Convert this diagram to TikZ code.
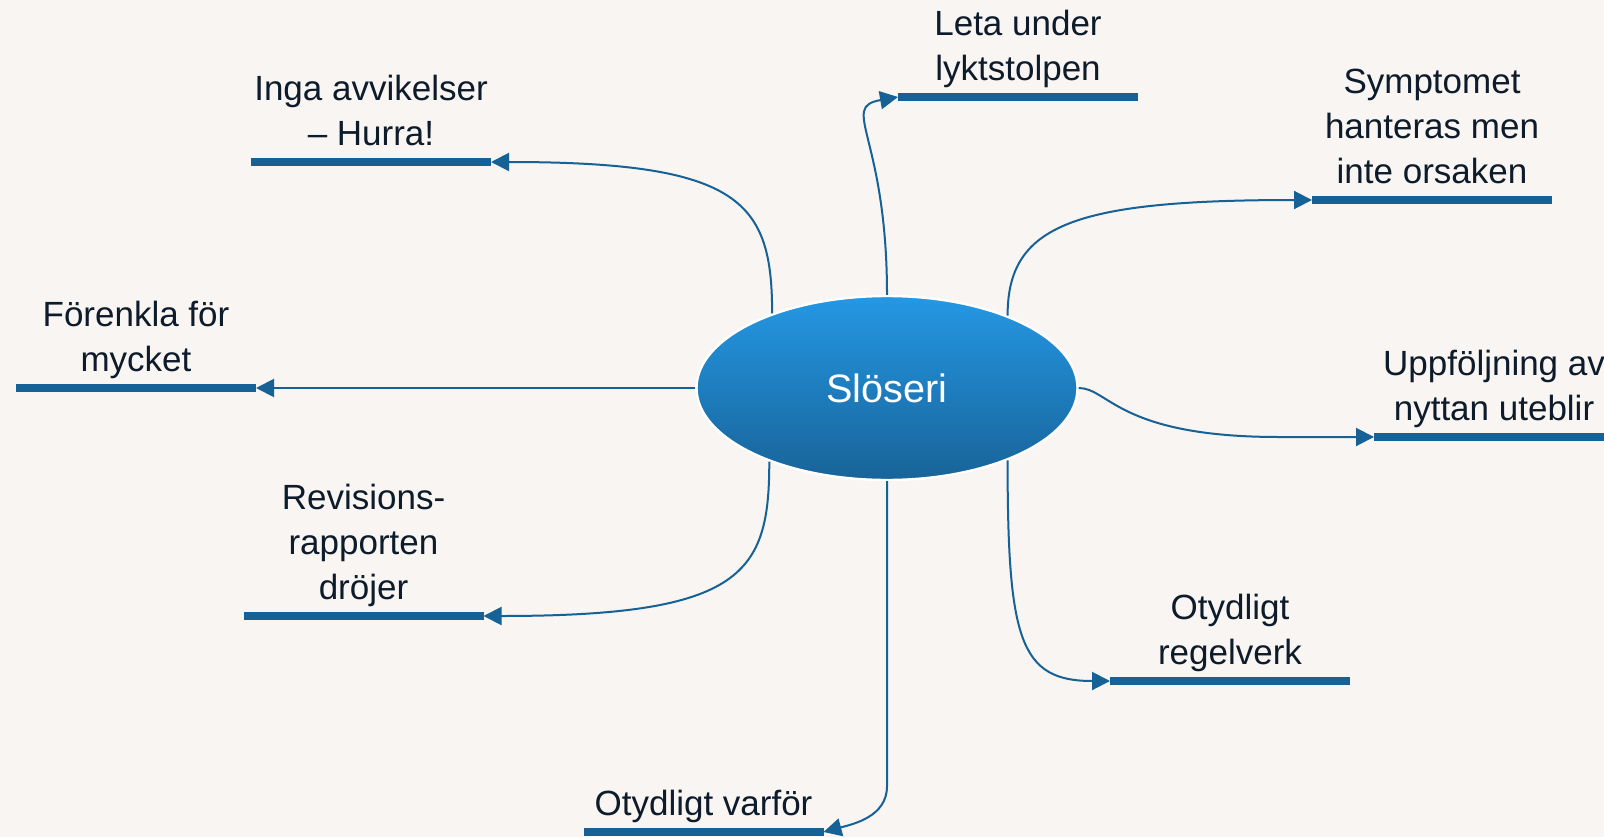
\documentclass[tikz,border=0pt]{standalone}
\usepackage{fontspec}
\setmainfont{Liberation Sans}
\usetikzlibrary{positioning,shapes.geometric,arrows.meta}
\definecolor{paper}{RGB}{248,245,242}
\definecolor{barblue}{RGB}{22,97,149}
\definecolor{ink}{RGB}{13,27,42}
\definecolor{blobtop}{RGB}{36,152,228}
\definecolor{blobbot}{RGB}{24,99,153}

\begin{document}
\begin{tikzpicture}[
		x=0.5pt, y=0.5pt,
		node distance=0pt,
		ar/.style={-{Triangle[length=9pt,width=9pt]}, line width=1pt, draw=barblue},
		cause/.style={fill=barblue, minimum width=120pt, minimum height=4pt, inner sep=0pt, outer sep=0pt},
		causetext/.style={align=center, inner sep=0pt, text depth=6pt, text=ink, font=\fontsize{17.5}{22.5}\selectfont},
		core/.style={ellipse, draw=white, line width=1.2pt, top color=blobtop, bottom color=blobbot, minimum width=190.5pt, minimum height=92pt, inner sep=0pt, text=white, font=\fontsize{19.8}{23}\selectfont}
	]
		\fill[paper] (0,0) rectangle (1604,837);
		\useasboundingbox (0,0) rectangle (1604,837);
		\node[core] (waste) at (887,449) {Slöseri};
		% causes round the centre
		\node[cause] (hurra) at (371,675) {};
		\node[causetext, above=of hurra] (hurra-t) {Inga avvikelser\\– Hurra!};
		\node[cause] (simple) at (136,449) {};
		\node[causetext, above=of simple] (simple-t) {Förenkla för\\mycket};
		\node[cause] (report) at (363.5,221) {};
		\node[causetext, above=of report] (report-t) {Revisions-\\rapporten\\dröjer};
		\node[cause] (why) at (703.5,5) {};
		\node[causetext, above=of why] (why-t) {Otydligt varför};
		\node[cause] (rules) at (1230,156) {};
		\node[causetext, above=of rules] (rules-t) {Otydligt\\regelverk};
		\node[cause] (followup) at (1494,400) {};
		\node[causetext, above=of followup] (followup-t) {Uppföljning av\\nyttan uteblir};
		\node[cause] (symptom) at (1432,637) {};
		\node[causetext, above=of symptom] (symptom-t) {Symptomet\\hanteras men\\inte orsaken};
		\node[cause] (lamp) at (1018,740) {};
		\node[causetext, above=of lamp] (lamp-t) {Leta under\\lyktstolpen};
		% connectors
		\draw[ar] (waste.147) to[out=90,in=0,out distance=56pt,in distance=125pt] (hurra.east);
		\draw[ar] (waste.west) -- (simple.east);
		\draw[ar] (waste.212) to[out=-90,in=0,out distance=56pt,in distance=130pt] (report.east);
		\draw[ar] (waste.south) -- ++(0,-305) to[out=-90,in=15] (why.east);
		\draw[ar] (waste.329) to[out=-90,in=180,out distance=90pt,in distance=45pt] (rules.west);
		\draw[ar] (waste.east) to[out=0,in=180,out distance=15pt,in distance=80pt] ++(200,-49) -- (followup.west);
		\draw[ar] (waste.31) to[out=90,in=180,out distance=45pt,in distance=120pt] (symptom.west);
		\draw[ar] (waste.north) to[out=90,in=190,out distance=80pt,in distance=30pt] (lamp.west);
	\end{tikzpicture}
\end{document}
